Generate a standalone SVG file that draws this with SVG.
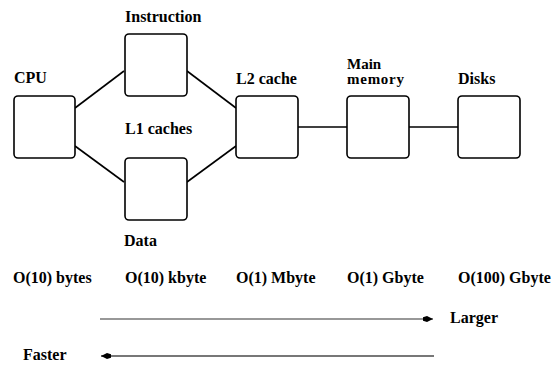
<svg xmlns="http://www.w3.org/2000/svg" width="557" height="365" viewBox="0 0 557 365">
<style>
.box{fill:#fff;stroke:#000;stroke-width:1.6}
.ln{stroke:#000;stroke-width:1.6;fill:none}
.ar1{stroke:#333;stroke-width:1.2;fill:none}
.ar2{stroke:#777;stroke-width:1.8;fill:none}
.t{font-family:'Liberation Serif','DejaVu Serif',serif;font-weight:700;font-size:16px;fill:#000}
.s{font-size:15px}
</style>
<defs>
<marker id="ah" viewBox="0 0 10 6" refX="10" refY="3" markerWidth="10" markerHeight="6" markerUnits="userSpaceOnUse" orient="auto">
<path d="M0,1.2 L4,0 L10,3 L4,6 L0,4.8 Z" fill="#000"/>
</marker>
</defs>
<g id="connectors">
<line class="ln" x1="75" y1="108" x2="124" y2="71"/>
<line class="ln" x1="75" y1="146" x2="124" y2="182"/>
<line class="ln" x1="187" y1="71" x2="236" y2="108"/>
<line class="ln" x1="187" y1="182" x2="236" y2="146"/>
<line class="ln" x1="298" y1="127" x2="347" y2="127"/>
<line class="ln" x1="409" y1="127" x2="458" y2="127"/>
<line class="ar1" x1="100" y1="319" x2="433" y2="319" marker-end="url(#ah)"/>
<line class="ar2" x1="434" y1="356" x2="101" y2="356" marker-end="url(#ah)"/>
</g>
<g id="cpu"><rect class="box" x="14" y="96" width="61" height="62" rx="4"/><text class="t" x="14" y="83">CPU</text></g>
<g id="instruction"><rect class="box" x="125" y="34" width="62" height="62" rx="4"/><text class="t" x="125" y="22">Instruction</text></g>
<g id="data"><rect class="box" x="125" y="158" width="62" height="62" rx="4"/><text class="t" x="124" y="246">Data</text></g>
<g id="l1"><text class="t" x="125" y="134">L1 caches</text></g>
<g id="l2"><rect class="box" x="236" y="96" width="62" height="62" rx="4"/><text class="t" x="236" y="84">L2 cache</text></g>
<g id="mainmem"><rect class="box" x="347" y="96" width="62" height="62" rx="4"/><text class="t s" x="347" y="69">Main</text><text class="t s" x="347" y="84" textLength="57">memory</text></g>
<g id="disks"><rect class="box" x="458" y="96" width="62" height="62" rx="4"/><text class="t" x="458" y="84">Disks</text></g>
<g id="sizes">
<text class="t" x="13" y="283">O(10) bytes</text>
<text class="t" x="125" y="283">O(10) kbyte</text>
<text class="t" x="236" y="283">O(1) Mbyte</text>
<text class="t" x="347" y="283">O(1) Gbyte</text>
<text class="t" x="458" y="283">O(100) Gbyte</text>
</g>
<g id="labels"><text class="t" x="450" y="323">Larger</text><text class="t" x="23" y="360">Faster</text></g>
</svg>
